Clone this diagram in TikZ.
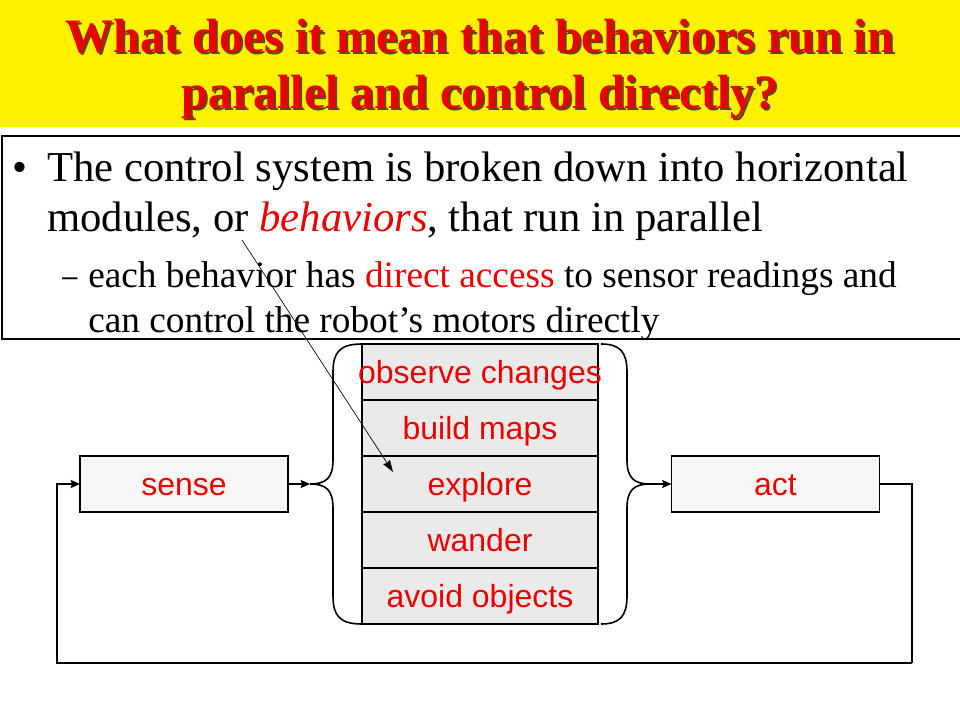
\documentclass[tikz,border=0pt]{standalone}
\usepackage{fontspec}
\setmainfont{Liberation Serif}
\newfontfamily\labelfont{Liberation Sans}
\usetikzlibrary{positioning,arrows.meta}
\definecolor{slidered}{RGB}{235,0,0}
\definecolor{titleshadow}{RGB}{95,70,10}
\definecolor{behfill}{RGB}{234,234,234}
\definecolor{iofill}{RGB}{247,247,247}

\begin{document}
\begin{tikzpicture}[x=0.75pt, y=-0.75pt,
		title/.style={font=\bfseries\fontsize{36}{42}\selectfont, anchor=base, inner sep=0pt},
		bodytext/.style={font=\fontsize{32}{38}\selectfont, anchor=base west, inner sep=0pt},
		subtext/.style={font=\fontsize{28}{34}\selectfont, anchor=base west, inner sep=0pt},
		box/.style={draw, line width=1.2pt, inner sep=0pt, outer sep=0pt, minimum height=42pt,
			text height=17pt, text depth=0pt, text=slidered, font=\labelfont\fontsize{24}{28}\selectfont},
		behbox/.style={box, fill=behfill, minimum width=177pt},
		iobox/.style={box, fill=iofill, minimum width=156pt},
		arr/.style={line width=1.2pt, -{Stealth[length=7pt, width=6pt, inset=1pt]}}]
	\useasboundingbox (0,0) rectangle (960,720);
	% title band
	\fill[yellow] (0,0) rectangle (960,127);
	\node[title, text=titleshadow] (shadow1) at (482,55) {What does it mean that behaviors run in};
	\node[title, text=slidered] (title1) at (480,53) {What does it mean that behaviors run in};
	\node[title, text=titleshadow] (shadow2) at (482,111) {parallel and control directly?};
	\node[title, text=slidered] (title2) at (480,109) {parallel and control directly?};
	% text box
	\draw[line width=1.2pt] (2,136) rectangle (970,339);
	\node[bodytext] (bullet) at (12,182) {\textbullet};
	\node[bodytext] (line1) at (47,182) {The control system is broken down into horizontal};
	\node[bodytext] (line2) at (47,232) {modules, or \textcolor{slidered}{\textit{behaviors}}, that run in parallel};
	\node[subtext] (dash) at (62,287) {\scalebox{0.8}[1]{--}};
	\node[subtext] (sub1) at (88,287) {each behavior has \textcolor{slidered}{direct access} to sensor readings and};
	\node[subtext] (sub2) at (88,332) {can control the robot's motors directly};
	% behaviours
	\node[behbox] (observe) at (480,372) {\makebox[0pt]{observe changes}};
	\node[behbox, below=0pt of observe] (maps) {build maps};
	\node[behbox, below=0pt of maps] (explore) {explore};
	\node[behbox, below=0pt of explore] (wander) {wander};
	\node[behbox, below=0pt of wander] (avoid) {avoid objects};
	\node[iobox] (sense) at (184,484) {sense};
	\node[iobox] (act) at (775.5,484) {act};
	% braces
	\draw[line width=1.2pt] (362,344) .. controls (340,344) and (333,352) .. (333,372) -- (333,460)
		.. controls (333,478) and (326,484) .. (310,484) .. controls (326,484) and (333,490) .. (333,508)
		-- (333,596) .. controls (333,616) and (340,624) .. (362,624);
	\draw[line width=1.2pt] (601,344) .. controls (620,344) and (627,352) .. (627,372) -- (627,460)
		.. controls (627,478) and (634,484) .. (650,484) .. controls (634,484) and (627,490) .. (627,508)
		-- (627,596) .. controls (627,616) and (620,624) .. (601,624);
	\coordinate (lbrace) at (310,484);
	\coordinate (rbrace) at (650,484);
	\draw[arr] (sense.east) -- (lbrace);
	\draw[arr] (rbrace) -- (act.west);
	% feedback loop
	\coordinate (fbr) at (912,663);
	\coordinate (fbl) at (57,663);
	\draw[line width=0.8pt] (act.east) -| (fbr);
	\draw[arr] (fbr) -- (fbl) |- (sense.west);
	% pointer
	\coordinate (ptrstart) at (242,240);
	\coordinate (ptrend) at (393,472);
	\draw[line width=0.5pt, -{Stealth[length=9pt, width=6pt, inset=1pt]}] (ptrstart) -- (ptrend);
\end{tikzpicture}
\end{document}
